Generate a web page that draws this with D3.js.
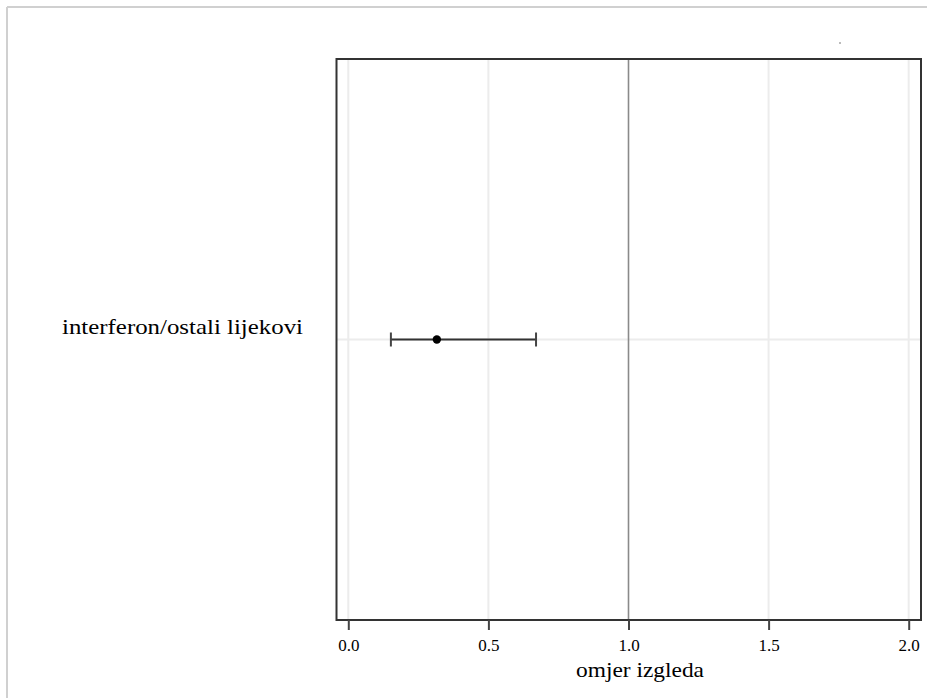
<!DOCTYPE html>
<html><head><meta charset="utf-8">
<script src="https://cdn.jsdelivr.net/npm/d3@7"></script>
<style>html,body{margin:0;padding:0;background:#fff;}svg{display:block;} text{font-family:'Liberation Serif','Times New Roman',serif;}</style>
</head><body>
<script>
const categories = ["interferon/ostali lijekovi"];
const estimates = [0.316];
const lower = [0.152];
const upper = [0.670];
const xTicks = [0, 0.5, 1.0, 1.5, 2.0];
const xTickLabels = ["0.0", "0.5", "1.0", "1.5", "2.0"];
const xTitle = "omjer izgleda";
const refValue = 1.0;

const W = 927, H = 698;
const FONT = "'Liberation Serif', 'Times New Roman', serif";
const svg = d3.select("body").append("svg").attr("width", W).attr("height", H);

// outer frame (top and left)
svg.append("line").attr("x1", 7).attr("x2", W).attr("y1", 7).attr("y2", 7).attr("stroke", "#d0d0d0").attr("stroke-width", 2);
svg.append("line").attr("x1", 7).attr("x2", 7).attr("y1", 7).attr("y2", H).attr("stroke", "#d0d0d0").attr("stroke-width", 2);
svg.append("rect").attr("x", 839).attr("y", 42).attr("width", 2).attr("height", 2).attr("fill", "#bbb");

const frame = {left: 336.5, right: 921, top: 59, bottom: 620};
const x = d3.scaleLinear().domain([0, 2]).range([348.3, 908.7]);
const y = d3.scalePoint().domain(categories).range([frame.top, frame.bottom]).padding(0.5);

const g = svg.append("g");
g.selectAll("line.grid").data(xTicks.filter(d => d !== refValue)).enter().append("line")
  .attr("x1", d => x(d)).attr("x2", d => x(d)).attr("y1", frame.top).attr("y2", frame.bottom)
  .attr("stroke", "#ececec").attr("stroke-width", 2);
g.selectAll("line.hgrid").data(categories).enter().append("line")
  .attr("x1", frame.left).attr("x2", frame.right).attr("y1", d => y(d)).attr("y2", d => y(d))
  .attr("stroke", "#ececec").attr("stroke-width", 2);
g.append("line").attr("x1", x(refValue)).attr("x2", x(refValue)).attr("y1", frame.top).attr("y2", frame.bottom)
  .attr("stroke", "#8a8a8a").attr("stroke-width", 1.6);

const rows = categories.map((c, i) => ({c, est: estimates[i], lo: lower[i], hi: upper[i]}));
const eb = g.selectAll("g.eb").data(rows).enter().append("g");
eb.append("line").attr("x1", d => x(d.lo)).attr("x2", d => x(d.hi)).attr("y1", d => y(d.c)).attr("y2", d => y(d.c))
  .attr("stroke", "#333").attr("stroke-width", 2);
eb.append("line").attr("x1", d => x(d.lo)).attr("x2", d => x(d.lo)).attr("y1", d => y(d.c) - 7).attr("y2", d => y(d.c) + 7)
  .attr("stroke", "#444").attr("stroke-width", 2);
eb.append("line").attr("x1", d => x(d.hi)).attr("x2", d => x(d.hi)).attr("y1", d => y(d.c) - 7).attr("y2", d => y(d.c) + 7)
  .attr("stroke", "#444").attr("stroke-width", 2);
eb.append("circle").attr("cx", d => x(d.est)).attr("cy", d => y(d.c)).attr("r", 4.2).attr("fill", "#000");

svg.append("rect").attr("x", frame.left).attr("y", frame.top).attr("width", frame.right - frame.left).attr("height", frame.bottom - frame.top)
  .attr("fill", "none").attr("stroke", "#333").attr("stroke-width", 2);

const axis = d3.axisBottom(x).tickValues(xTicks).tickFormat((d, i) => xTickLabels[i]).tickSize(10).tickPadding(9);
const ax = svg.append("g").attr("transform", `translate(0,${frame.bottom})`).call(axis);
ax.select(".domain").remove();
ax.attr("font-family", FONT);
ax.selectAll(".tick line").attr("stroke", "#444").attr("stroke-width", 2);
ax.selectAll(".tick text").attr("font-family", FONT).attr("font-size", 17).attr("fill", "#000");

svg.append("text").attr("x", 640).attr("y", 677).attr("text-anchor", "middle")
  .attr("font-family", FONT).attr("font-size", 21).attr("fill", "#000")
  .attr("textLength", 128).attr("lengthAdjust", "spacingAndGlyphs").text(xTitle);

svg.selectAll("text.cat").data(categories).enter().append("text")
  .attr("x", 62).attr("y", d => y(d) - 6)
  .attr("font-family", FONT).attr("font-size", 22).attr("fill", "#000")
  .attr("textLength", 241).attr("lengthAdjust", "spacingAndGlyphs").text(d => d);
</script>
</body></html>
